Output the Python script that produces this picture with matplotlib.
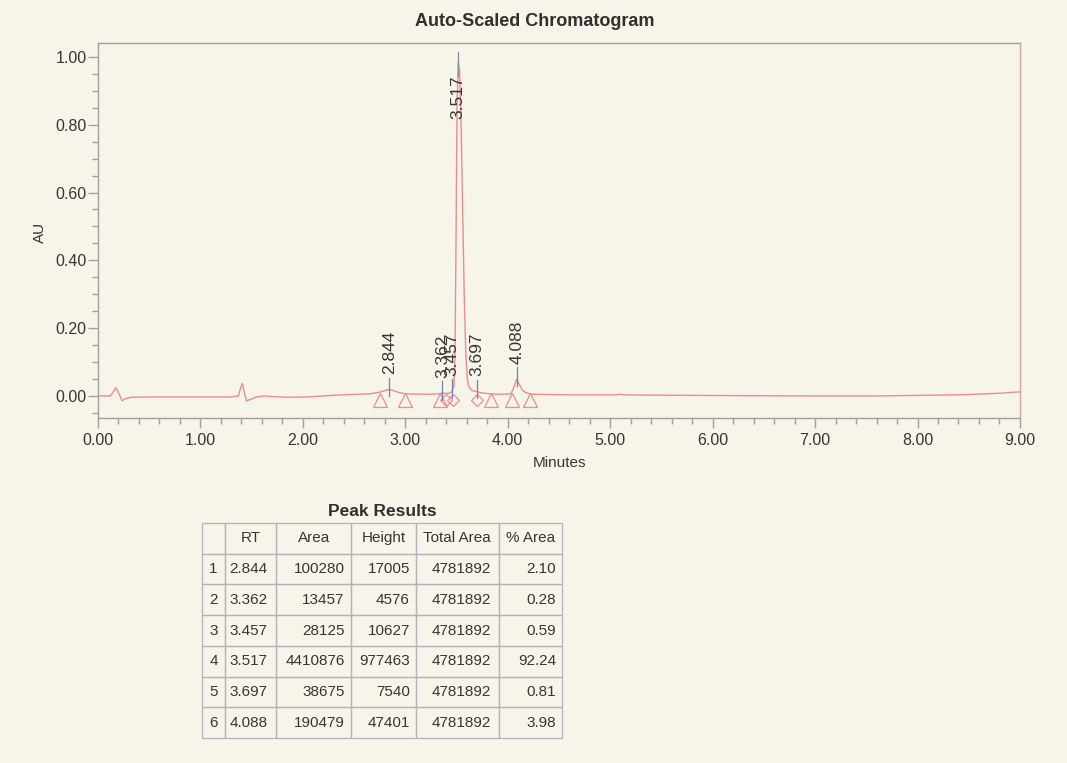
import numpy as np
import matplotlib
matplotlib.use('Agg')
import matplotlib.pyplot as plt
from matplotlib.ticker import MultipleLocator, FormatStrFormatter

plt.rcParams['font.family'] = ['Liberation Sans', 'DejaVu Sans']

# detector trace (minutes, AU)
trace_t = [0.00, 0.12, 0.15, 0.175, 0.20, 0.235, 0.27, 0.33, 0.50, 1.30,
           1.37, 1.395, 1.41, 1.425, 1.45, 1.49, 1.55, 1.62, 1.70, 1.85,
           2.05, 2.25, 2.45, 2.65, 2.75, 2.80, 2.844, 2.89, 2.95, 3.02,
           3.20, 3.33, 3.362, 3.40, 3.44, 3.457, 3.475, 3.485, 3.495, 3.505,
           3.517, 3.53, 3.545, 3.56, 3.575, 3.59, 3.605, 3.62, 3.65, 3.697,
           3.73, 3.80, 3.90, 4.03, 4.06, 4.088, 4.11, 4.14, 4.18, 4.25,
           4.40, 4.70, 5.05, 5.10, 5.15, 5.60, 6.20, 7.00, 7.60, 8.10,
           8.50, 8.80, 9.00]
trace_au = [0.000, 0.000, 0.012, 0.024, 0.010, -0.014, -0.008, -0.004, -0.003, -0.003,
            0.000, 0.025, 0.037, 0.015, -0.015, -0.010, -0.003, 0.000, -0.002, -0.004,
            -0.003, 0.001, 0.004, 0.006, 0.011, 0.016, 0.019, 0.015, 0.009, 0.006,
            0.005, 0.006, 0.009, 0.007, 0.009, 0.014, 0.030, 0.12, 0.45, 0.85,
            0.985, 0.96, 0.80, 0.55, 0.30, 0.13, 0.05, 0.028, 0.016, 0.013,
            0.010, 0.007, 0.005, 0.006, 0.025, 0.050, 0.036, 0.018, 0.009, 0.005,
            0.004, 0.003, 0.003, 0.005, 0.003, 0.002, 0.001, 0.000, 0.000, 0.002,
            0.004, 0.008, 0.012]

# baseline start/stop marks
tri_t = [2.75, 3.00, 3.34, 3.84, 4.04, 4.22]
dia_t = [3.40, 3.47, 3.70]
mark_au = -0.012

# peak table
peak_no = ['1', '2', '3', '4', '5', '6']
rt = ['2.844', '3.362', '3.457', '3.517', '3.697', '4.088']
area = ['100280', '13457', '28125', '4410876', '38675', '190479']
height = ['17005', '4576', '10627', '977463', '7540', '47401']
total_area = ['4781892'] * 6
pct_area = ['2.10', '0.28', '0.59', '92.24', '0.81', '3.98']
col_names = ['', 'RT', 'Area', 'Height', 'Total Area', '% Area']

bg = '#f7f4e9'
trace_col = '#ee8c8c'
txt = '#363636'
frame = '#a0a0a0'

fig = plt.figure(figsize=(10.67, 7.63), dpi=100, facecolor=bg)
ax = fig.add_axes([0.0918, 0.4522, 0.8641, 0.4914], facecolor=bg)

ax.plot(trace_t, trace_au, color=trace_col, lw=1.0)
ax.plot(tri_t, [mark_au] * len(tri_t), ls='none', marker='^', ms=10,
        mfc='none', mec=trace_col, mew=0.9)
ax.plot(dia_t, [mark_au] * len(dia_t), ls='none', marker='D', ms=6.5,
        mfc='none', mec=trace_col, mew=0.9)

# peak labels
for r in rt:
    t = float(r)
    h = np.interp(t, trace_t, trace_au)
    if h > 0.5:
        ax.plot([t, t], [0.945, 1.015], color='#8a8aa8', lw=0.9)
        ax.text(t, 0.945, r, rotation=90, ha='center', va='top',
                fontsize=12.5, color=txt)
    else:
        ax.plot([t, t], [h - 0.02, h + 0.035], color='#7080b0', lw=0.9)
        ax.text(t, h + 0.045, r, rotation=90, ha='center', va='bottom',
                fontsize=12.5, color=txt)

ax.set_xlim(0, 9)
ax.set_ylim(-0.065, 1.041)
ax.xaxis.set_major_locator(MultipleLocator(1))
ax.xaxis.set_minor_locator(MultipleLocator(0.2))
ax.yaxis.set_major_locator(MultipleLocator(0.2))
ax.yaxis.set_minor_locator(MultipleLocator(0.05))
ax.xaxis.set_major_formatter(FormatStrFormatter('%.2f'))
ax.yaxis.set_major_formatter(FormatStrFormatter('%.2f'))
ax.tick_params(which='major', length=7, width=1, color=frame,
               labelsize=11.5, labelcolor=txt)
ax.tick_params(which='minor', length=4, width=1, color=frame)
ax.tick_params(axis='y', pad=1)
ax.tick_params(axis='x', pad=4)
for s in ax.spines.values():
    s.set_color(frame)
    s.set_linewidth(1)
ax.spines['right'].set_color('#d8a0a8')

fig.text(535 / 1067, 1 - 22 / 763, 'Auto-Scaled Chromatogram', ha='center',
         va='center', fontsize=13, fontweight='bold', color='#303030')
fig.text(560 / 1067, 1 - 463 / 763, 'Minutes', ha='center', va='center',
         fontsize=11, color=txt)
fig.text(40 / 1067, 1 - 232 / 763, 'AU', ha='center', va='center',
         rotation=90, fontsize=11, color=txt)

# table
tax = fig.add_axes([0.1893, 0.0328, 0.3374, 0.2817])
tax.axis('off')
rows = [list(r) for r in zip(peak_no, rt, area, height, total_area, pct_area)]
widths = np.array([23, 51, 75, 64, 83, 63], dtype=float)
tbl = tax.table(cellText=[col_names] + rows, colWidths=list(widths / widths.sum()),
                bbox=[0, 0, 1, 1], cellLoc='right')
tbl.auto_set_font_size(False)
tbl.set_fontsize(11)
for (i, j), cell in tbl.get_celld().items():
    cell.set_edgecolor('#b8b0bc')
    cell.set_linewidth(0.9)
    cell.set_facecolor('none')
    cell.get_text().set_color(txt)
    cell.PAD = 0.09
    if i == 0 or j == 0:
        cell._loc = 'center'
        cell.get_text().set_horizontalalignment('center')
    elif j == 1:
        cell._loc = 'left'
        cell.get_text().set_horizontalalignment('left')

fig.text(382 / 1067, 1 - 512 / 763, 'Peak Results', ha='center', va='center',
         fontsize=12.5, fontweight='bold', color='#303030')

fig.savefig('out.png', dpi=100, facecolor=bg)
